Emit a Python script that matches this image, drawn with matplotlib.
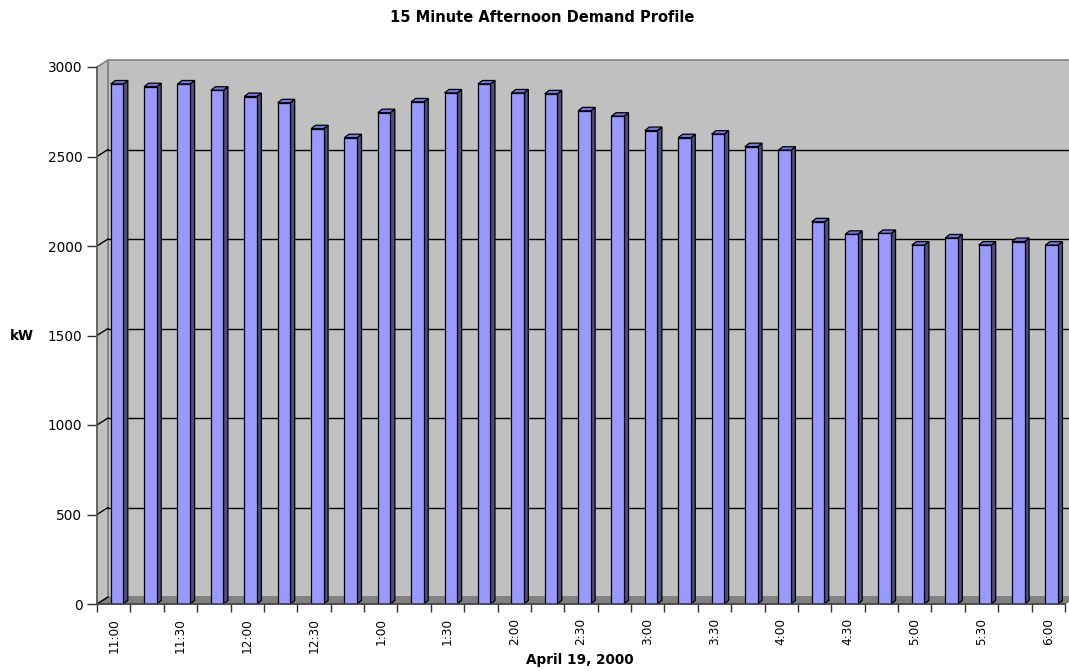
import matplotlib.pyplot as plt
from matplotlib.patches import Polygon

# 15 minute demand readings, April 19, 2000 (kW)
times = ['11:00', '11:15', '11:30', '11:45', '12:00', '12:15', '12:30', '12:45',
         '1:00', '1:15', '1:30', '1:45', '2:00', '2:15', '2:30', '2:45',
         '3:00', '3:15', '3:30', '3:45', '4:00', '4:15', '4:30', '4:45',
         '5:00', '5:15', '5:30', '5:45', '6:00']
demand = [2905, 2890, 2905, 2870, 2835, 2800, 2655, 2605,
          2745, 2805, 2855, 2905, 2855, 2850, 2755, 2725,
          2645, 2605, 2625, 2555, 2535, 2135, 2065, 2070,
          2005, 2045, 2005, 2025, 2005]
yticks = [0, 500, 1000, 1500, 2000, 2500, 3000]

W, H = 1069, 671
fig = plt.figure(figsize=(W / 100, H / 100), dpi=100)
ax = fig.add_axes([97 / W, (H - 604) / H, (1065 - 97) / W, (604 - 67) / H])
n = len(demand)
ax.set_xlim(-0.5, n - 0.5)
ax.set_ylim(0, 3000)

# pixel -> data helpers (axes has fixed pixel size)
px_x = n / (1065 - 97)
px_y = 3000 / (604 - 67)
wdx, wdy = 11 * px_x, 7 * px_y      # wall depth
bdx, bdy = 4.5 * px_x, 3.5 * px_y   # bar depth

x0, x1 = -0.5, n - 0.5
ymax = yticks[-1]

# back wall, left wall, floor
ax.add_patch(Polygon([(x0 + wdx, wdy), (x1 + wdx, wdy), (x1 + wdx, ymax + wdy), (x0 + wdx, ymax + wdy)],
                     closed=True, facecolor='#c0c0c0', edgecolor='#808080', lw=1.2, zorder=0, clip_on=False))
ax.add_patch(Polygon([(x0, 0), (x0 + wdx, wdy), (x0 + wdx, ymax + wdy), (x0, ymax)],
                     closed=True, facecolor='#c0c0c0', edgecolor='#808080', lw=1.2, zorder=1, clip_on=False))
ax.add_patch(Polygon([(x0, 0), (x1, 0), (x1 + wdx, wdy), (x0 + wdx, wdy)],
                     closed=True, facecolor='#808080', edgecolor='#808080', lw=0.8, zorder=1, clip_on=False))

# gridlines on the walls
for v in yticks[1:-1]:
    ax.plot([x0 + wdx, x1 + wdx], [v + wdy, v + wdy], color='black', lw=1, zorder=1, clip_on=False)
for v in yticks[:-1]:
    ax.plot([x0, x0 + wdx], [v, v + wdy], color='black', lw=1, zorder=2, clip_on=False)

# bars
bw = 0.377
xs = [i + 0.1 for i in range(n)]
ax.bar(xs, demand, width=bw, color='#9999ff', edgecolor='black', lw=0.9, zorder=4)
for x, v in zip(xs, demand):
    xl, xr = x - bw / 2, x + bw / 2
    ax.add_patch(Polygon([(xr, 0), (xr + bdx, bdy), (xr + bdx, v + bdy), (xr, v)],
                         closed=True, facecolor='#4d4d80', edgecolor='black', lw=0.9, zorder=3, clip_on=False))
    ax.add_patch(Polygon([(xl, v), (xl + bdx, v + bdy), (xr + bdx, v + bdy), (xr, v)],
                         closed=True, facecolor='#7474e8', edgecolor='black', lw=0.9, zorder=3, clip_on=False))

# axes styling
for s in ['top', 'right']:
    ax.spines[s].set_visible(False)
ax.spines['left'].set_color('#606060')
ax.spines['left'].set_linewidth(1.2)
ax.spines['bottom'].set_color('#404040')
ax.spines['bottom'].set_linewidth(1.2)
ax.spines['left'].set_zorder(5)
ax.spines['bottom'].set_zorder(5)
ax.set_facecolor('none')

ax.set_yticks(yticks)
ax.set_yticklabels([str(v) for v in yticks], fontsize=9.8, family='DejaVu Sans')
ax.tick_params(axis='y', length=7.5, width=1, color='#303030', pad=3)

ax.set_xticks(range(0, n, 2))
ax.set_xticklabels(times[::2], rotation=90, fontsize=8.7, family='DejaVu Sans')
ax.set_xticks([i - 0.5 for i in range(n + 1)], minor=True)
ax.tick_params(axis='x', which='major', length=0, pad=10)
ax.tick_params(axis='x', which='minor', length=6, width=1, color='#303030')

fig.text(542 / W, 1 - 18 / H, '15 Minute Afternoon Demand Profile', ha='center', va='center',
         fontsize=10.5, fontweight='bold', family='DejaVu Sans')
fig.text(22 / W, 1 - 336 / H, 'kW', ha='center', va='center', fontsize=9.8, fontweight='bold', family='DejaVu Sans')
fig.text(580 / W, 1 - 660 / H, 'April 19, 2000', ha='center', va='center', fontsize=9.8, fontweight='bold',
         family='DejaVu Sans')

fig.savefig('out.png', dpi=100)
